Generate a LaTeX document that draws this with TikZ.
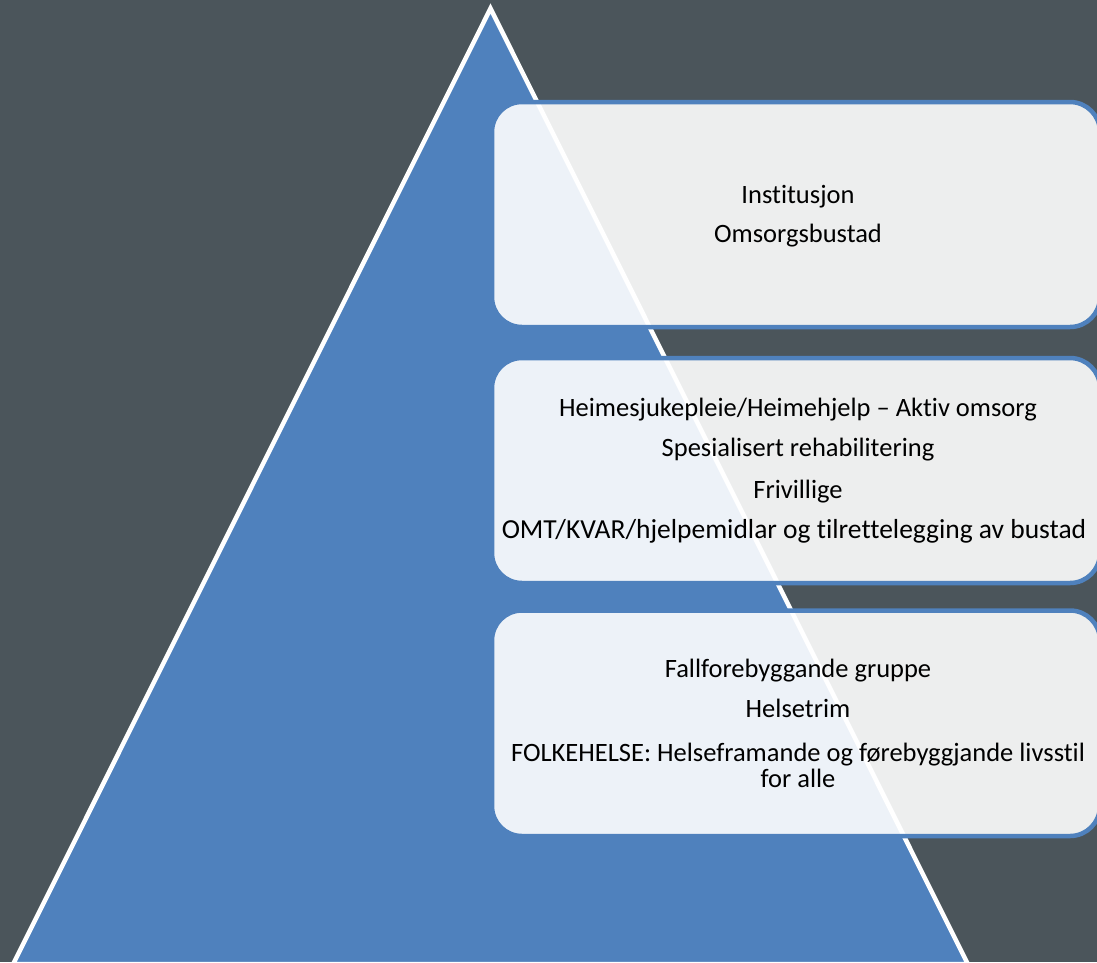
\documentclass[tikz,border=0pt]{standalone}
\usepackage{fontspec}
\setmainfont[Ligatures=NoCommon]{Carlito}
\usetikzlibrary{calc}
\definecolor{bggray}{HTML}{4B555B}
\definecolor{pyrblue}{HTML}{4F81BD}
\tikzset{levelbox/.style={draw=pyrblue,line width=4.5pt,fill=white,fill opacity=.9,rounded corners=30pt},
  leveltext/.style={anchor=base,inner sep=0pt,text=black,font=\fontsize{26.5}{23}\selectfont}}

\begin{document}
\begin{tikzpicture}[x=1pt,y=-1pt]
\fill[bggray] (0,0) rectangle (1097,962);
\useasboundingbox (0,0) rectangle (1097,962);
% pyramid
\coordinate (Top) at (490.5,8.5);
\coordinate (BL) at (13.2,964);
\coordinate (BR) at (967.8,964);
\filldraw[fill=pyrblue,draw=white,line width=4.5pt] (Top) -- (BR) -- (BL) -- cycle;
% levels
\draw[levelbox] (492,102) rectangle (1100,327);
\draw[levelbox] (492,358) rectangle (1100,583);
\draw[levelbox] (492,610.5) rectangle (1100,836);
\node[leveltext] (inst) at (798,203) {Institusjon};
\node[leveltext] (omsb) at (798,242) {Omsorgsbustad};
\node[leveltext] (heim) at (798,416) {Heimesjukepleie/Heimehjelp – Aktiv omsorg};
\node[leveltext] (spes) at (798,456) {Spesialisert rehabilitering};
\node[leveltext] (friv) at (798,498) {Frivillige};
\node[leveltext,font=\fontsize{27.5}{23}\selectfont] (omt) at (794,538) {OMT/KVAR/hjelpemidlar og tilrettelegging av bustad};
\node[leveltext] (fall) at (798,677) {Fallforebyggande gruppe};
\node[leveltext] (trim) at (798,717) {Helsetrim};
\node[leveltext] (folk) at (798,761) {FOLKEHELSE: Helseframande og førebyggjande livsstil};
\node[leveltext] (alle) at (798,787) {for alle};
\end{tikzpicture}
\end{document}
